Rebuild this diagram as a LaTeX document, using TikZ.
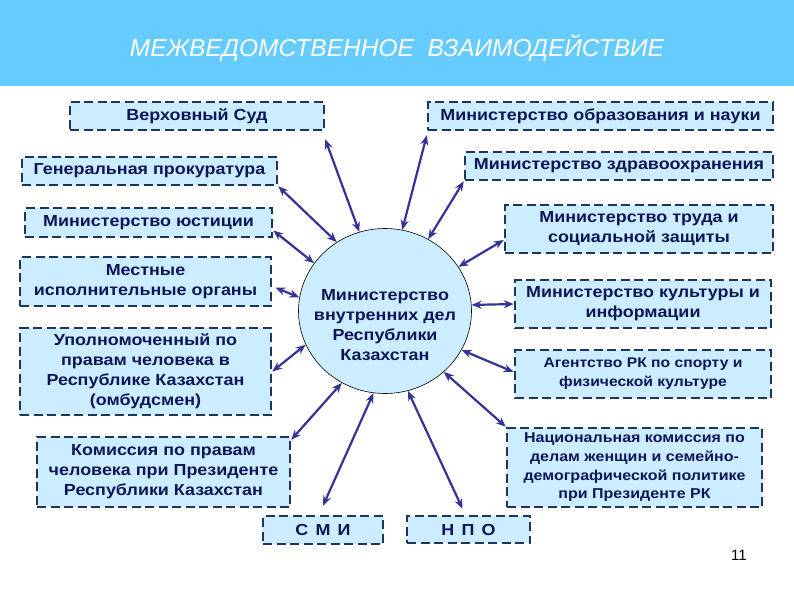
\documentclass[tikz,border=0pt]{standalone}
\usepackage{fontspec}
\setmainfont{Liberation Sans}
\newfontfamily\boxfont{Liberation Sans}[FakeStretch=1.12]
\usetikzlibrary{shapes.geometric,arrows.meta,calc}
\definecolor{barblue}{RGB}{102,204,255}
\definecolor{boxfill}{RGB}{204,236,255}
\definecolor{boxline}{RGB}{28,52,96}
\definecolor{txtc}{RGB}{12,22,88}
\definecolor{arrc}{RGB}{51,51,153}
\begin{document}
\begin{tikzpicture}[x=1pt,y=-1pt,
  boxn/.style={draw=boxline, fill=boxfill, line width=2.5pt, dash pattern=on 9pt off 4.5pt,
    rectangle, inner sep=0pt, align=center, text=txtc, font=\boxfont\bfseries\fontsize{16}{20}\selectfont},
  arr/.style={draw=arrc, line width=2.2pt, {Stealth[length=10pt,width=8pt]}-{Stealth[length=10pt,width=8pt]}}]
\useasboundingbox (0,0) rectangle (794,595);
\fill[white] (0,0) rectangle (794,595);
\fill[barblue] (0,0) rectangle (794,86);
\node[text=white, font=\itshape\fontsize{24.5}{28}\selectfont] (title) at (397,48) {МЕЖВЕДОМСТВЕННОЕ\ \ ВЗАИМОДЕЙСТВИЕ};

\node[boxn, minimum width=254pt, minimum height=28pt] (vs) at (197,116) {Верховный Суд};
\node[boxn, minimum width=345pt, minimum height=28pt] (mon) at (600.5,116) {Министерство образования и науки};
\node[boxn, minimum width=255pt, minimum height=28pt] (gp) at (149.5,171) {Генеральная прокуратура};
\node[boxn, minimum width=308pt, minimum height=28pt] (mz) at (619,166) {Министерство здравоохранения};
\node[boxn, minimum width=247pt, minimum height=29pt] (mju) at (148.5,222.5) {Министерство юстиции};
\node[boxn, minimum width=268pt, minimum height=48pt] (mtr) at (639,229) {Министерство труда и\\социальной защиты};
\node[boxn, minimum width=251pt, minimum height=49pt] (mio) at (145.5,281.5) {Местные\\исполнительные органы};
\node[boxn, minimum width=256pt, minimum height=48pt] (mki) at (643,304) {Министерство культуры и\\информации};
\node[boxn, minimum width=251pt, minimum height=87pt] (upl) at (145.5,371.5) {Уполномоченный по\\правам человека в\\Республике Казахстан\\(омбудсмен)};
\node[boxn, minimum width=256pt, minimum height=48pt, font=\boxfont\bfseries\fontsize{14}{19}\selectfont] (ags) at (643,374) {Агентство РК по спорту и\\физической культуре};
\node[boxn, minimum width=255pt, minimum height=79pt, font=\boxfont\bfseries\fontsize{14.3}{18.7}\selectfont] (nk) at (634.5,467.5) {Национальная комиссия по\\делам женщин и семейно-\\демографической политике\\при Президенте РК};
\node[boxn, minimum width=253pt, minimum height=70pt] (kom) at (163.5,472) {Комиссия по правам\\человека при Президенте\\Республики Казахстан};
\node[boxn, minimum width=120pt, minimum height=28pt] (smi) at (323,530) {С\hspace{0.45em}М\hspace{0.45em}И};
\node[boxn, minimum width=123pt, minimum height=27pt] (npo) at (468.5,529.5) {Н\hspace{0.45em}П\hspace{0.45em}О};

\node[ellipse, draw=black, line width=0.6pt, fill=boxfill, minimum width=173pt, minimum height=165pt, inner sep=0pt] (c) at (385,311) {};
\node[align=center, text=txtc, inner sep=0pt, font=\boxfont\bfseries\fontsize{16}{20}\selectfont] (ctext) at ([yshift=-14pt]c.center)
  {Министерство\\внутренних дел\\Республики\\Казахстан};

\node[font=\fontsize{15}{17}\selectfont, text=black] (pg) at (739,555) {11};

\draw[arr] (c.108) -- ([yshift=-8pt]vs.south east);
\draw[arr] (c.78) -- ([yshift=-4pt]mon.south west);
\draw[arr] (c.125) -- (gp.south east);
\draw[arr] (c.59) -- (mz.south west);
\draw[arr] (c.146) -- ([yshift=-8pt]mju.east);
\draw[arr] (c.31) -- ([yshift=-11pt]mtr.west);
\draw[arr] (c.171) -- ([xshift=3pt,yshift=-6pt]mio.east);
\draw[arr] (c.4) -- (mki.west);
\draw[arr] (c.203) -- (upl.east);
\draw[arr] (c.333) -- ([yshift=2pt]ags.west);
\draw[arr] (c.239) -- ([yshift=-4pt]kom.north east);
\draw[arr] (c.314) -- (nk.north west);
\draw[arr] (c.262) -- ([yshift=9pt]smi.north);
\draw[arr] (c.286) -- ([xshift=-6pt,yshift=6pt]npo.north);
\end{tikzpicture}
\end{document}
